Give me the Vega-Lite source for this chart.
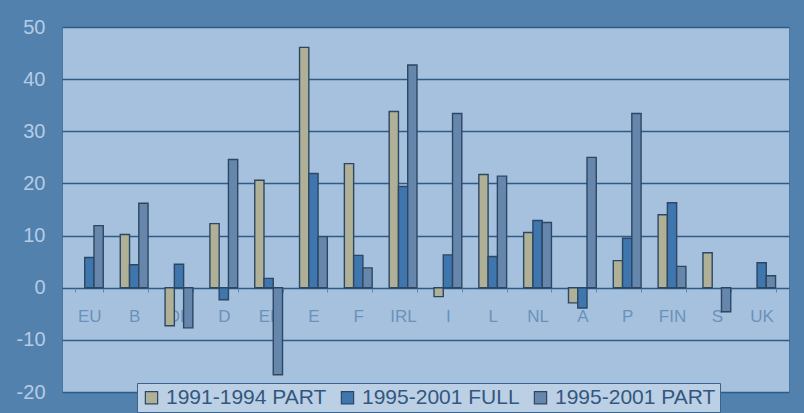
{
  "$schema": "https://vega.github.io/schema/vega-lite/v6.json",
  "width": 727,
  "height": 365,
  "autosize": {"type": "none"},
  "padding": {"left": 62, "top": 27, "right": 15, "bottom": 21},
  "background": "#5381ad",
  "config": {
    "view": {"fill": "#a6c1dd", "stroke": "#4a76a2", "strokeWidth": 1},
    "font": "Liberation Sans"
  },
  "data": {
    "values": [
      {"country": "EU", "series": "1995-2001 FULL", "value": 5.8},
      {"country": "EU", "series": "1995-2001 PART", "value": 11.9},
      {"country": "B", "series": "1991-1994 PART", "value": 10.2},
      {"country": "B", "series": "1995-2001 FULL", "value": 4.4},
      {"country": "B", "series": "1995-2001 PART", "value": 16.2},
      {"country": "DK", "series": "1991-1994 PART", "value": -7.3},
      {"country": "DK", "series": "1995-2001 FULL", "value": 4.5},
      {"country": "DK", "series": "1995-2001 PART", "value": -7.7},
      {"country": "D", "series": "1991-1994 PART", "value": 12.3},
      {"country": "D", "series": "1995-2001 FULL", "value": -2.3},
      {"country": "D", "series": "1995-2001 PART", "value": 24.6},
      {"country": "EL", "series": "1991-1994 PART", "value": 20.6},
      {"country": "EL", "series": "1995-2001 FULL", "value": 1.8},
      {"country": "EL", "series": "1995-2001 PART", "value": -16.7},
      {"country": "E", "series": "1991-1994 PART", "value": 46.1},
      {"country": "E", "series": "1995-2001 FULL", "value": 21.9},
      {"country": "E", "series": "1995-2001 PART", "value": 9.8},
      {"country": "F", "series": "1991-1994 PART", "value": 23.8},
      {"country": "F", "series": "1995-2001 FULL", "value": 6.2},
      {"country": "F", "series": "1995-2001 PART", "value": 3.8},
      {"country": "IRL", "series": "1991-1994 PART", "value": 33.8},
      {"country": "IRL", "series": "1995-2001 FULL", "value": 19.4},
      {"country": "IRL", "series": "1995-2001 PART", "value": 42.7},
      {"country": "I", "series": "1991-1994 PART", "value": -1.7},
      {"country": "I", "series": "1995-2001 FULL", "value": 6.3},
      {"country": "I", "series": "1995-2001 PART", "value": 33.4},
      {"country": "L", "series": "1991-1994 PART", "value": 21.7},
      {"country": "L", "series": "1995-2001 FULL", "value": 6.0},
      {"country": "L", "series": "1995-2001 PART", "value": 21.4},
      {"country": "NL", "series": "1991-1994 PART", "value": 10.6},
      {"country": "NL", "series": "1995-2001 FULL", "value": 12.9},
      {"country": "NL", "series": "1995-2001 PART", "value": 12.5},
      {"country": "A", "series": "1991-1994 PART", "value": -2.9},
      {"country": "A", "series": "1995-2001 FULL", "value": -3.9},
      {"country": "A", "series": "1995-2001 PART", "value": 25.0},
      {"country": "P", "series": "1991-1994 PART", "value": 5.2},
      {"country": "P", "series": "1995-2001 FULL", "value": 9.5},
      {"country": "P", "series": "1995-2001 PART", "value": 33.4},
      {"country": "FIN", "series": "1991-1994 PART", "value": 14.0},
      {"country": "FIN", "series": "1995-2001 FULL", "value": 16.3},
      {"country": "FIN", "series": "1995-2001 PART", "value": 4.1},
      {"country": "S", "series": "1991-1994 PART", "value": 6.7},
      {"country": "S", "series": "1995-2001 PART", "value": -4.6},
      {"country": "UK", "series": "1995-2001 FULL", "value": 4.8},
      {"country": "UK", "series": "1995-2001 PART", "value": 2.3}
    ]
  },
  "mark": {"type": "bar", "stroke": "#2c4763", "strokeWidth": 1.4},
  "encoding": {
    "x": {
      "field": "country",
      "type": "nominal",
      "sort": ["EU", "B", "DK", "D", "EL", "E", "F", "IRL", "I", "L", "NL", "A", "P", "FIN", "S", "UK"],
      "scale": {"paddingInner": 0.38, "paddingOuter": 0.3},
      "axis": {
        "title": null,
        "orient": "bottom",
        "offset": -104,
        "domain": false,
        "ticks": true,
        "tickBand": "extent",
        "tickSize": 4,
        "tickColor": "#5f86b0",
        "labelAngle": 0,
        "labelPadding": 16,
        "labelFontSize": 17,
        "labelColor": "#6b91bb",
        "grid": false
      }
    },
    "xOffset": {
      "field": "series",
      "type": "nominal",
      "sort": ["1991-1994 PART", "1995-2001 FULL", "1995-2001 PART"],
      "scale": {"domain": ["1991-1994 PART", "1995-2001 FULL", "1995-2001 PART"], "paddingInner": 0, "paddingOuter": 0}
    },
    "y": {
      "field": "value",
      "type": "quantitative",
      "scale": {"domain": [-20, 50], "nice": false, "zero": true},
      "axis": {
        "title": null,
        "values": [-20, -10, 0, 10, 20, 30, 40, 50],
        "labelExpr": "'' + datum.value",
        "domain": false,
        "ticks": false,
        "labelPadding": 17,
        "labelFontSize": 20,
        "labelColor": "#b4cce6",
        "grid": true,
        "gridColor": "#2f5b86",
        "gridWidth": 1.5
      }
    },
    "fill": {
      "field": "series",
      "type": "nominal",
      "scale": {
        "domain": ["1991-1994 PART", "1995-2001 FULL", "1995-2001 PART"],
        "range": ["#b0b096", "#3f76ae", "#6687ab"]
      },
      "legend": {
        "title": null,
        "orient": "none",
        "legendX": 75,
        "legendY": 356,
        "direction": "horizontal",
        "symbolType": "square",
        "symbolSize": 150,
        "symbolStrokeColor": "#2c4763",
        "symbolStrokeWidth": 1.2,
        "labelFontSize": 21,
        "labelLimit": 400,
        "labelColor": "#33577f",
        "labelOffset": 4,
        "columnPadding": 10,
        "padding": 4,
        "fillColor": "#bcd0e5",
        "strokeColor": "#3a638d"
      }
    }
  }
}
